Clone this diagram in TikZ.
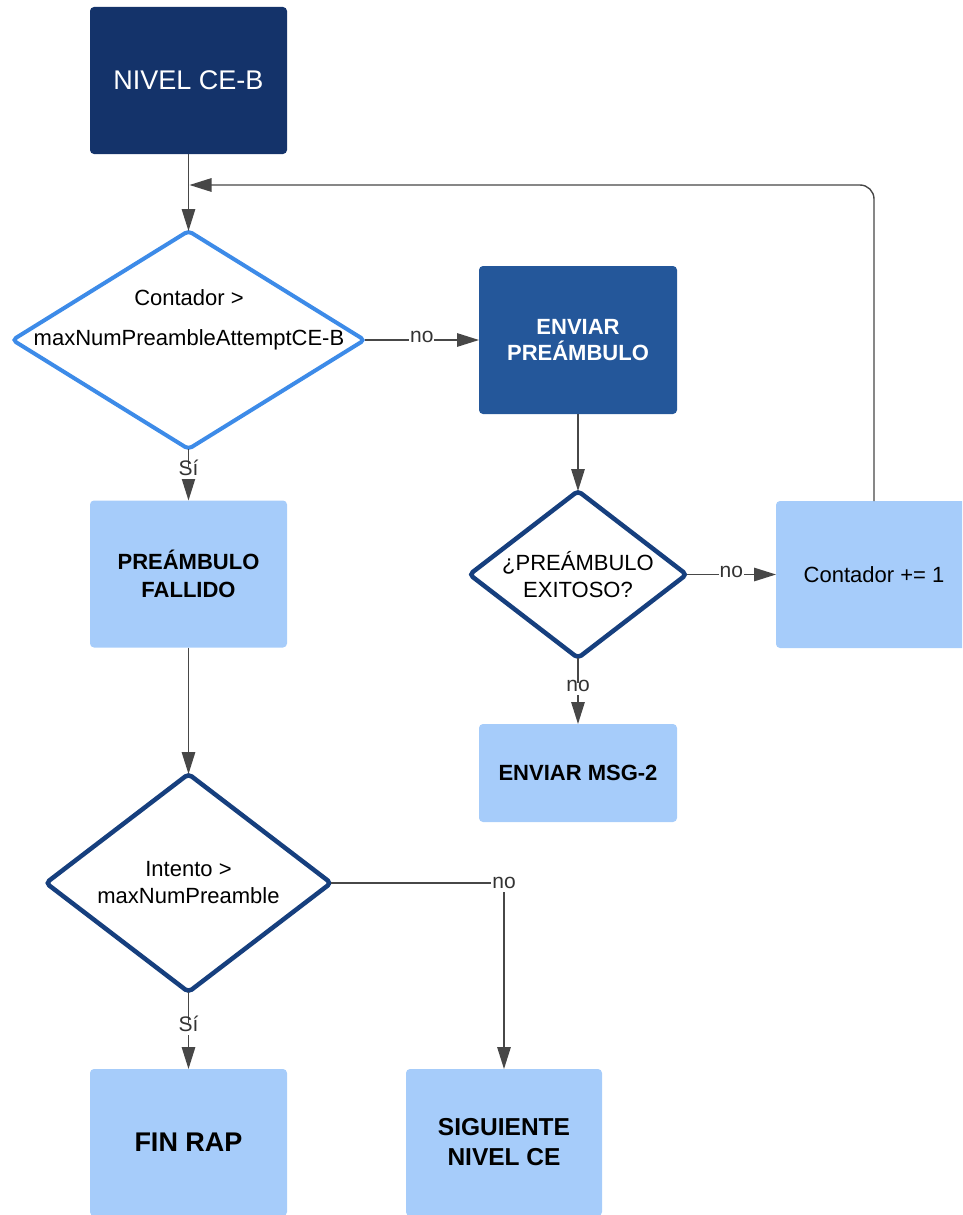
\documentclass[tikz,border=0pt]{standalone}
\usepackage{fontspec}
\setmainfont{Liberation Sans}
\usetikzlibrary{arrows.meta,shapes.geometric}

\definecolor{navy}{HTML}{14336A}
\definecolor{midblue}{HTML}{24579A}
\definecolor{paleblue}{HTML}{A6CCFA}
\definecolor{brightblue}{HTML}{3D8BE8}
\definecolor{deepblue}{HTML}{163F7E}
\definecolor{wire}{HTML}{474747}
\definecolor{labelgray}{HTML}{333333}

\newcommand{\fsz}[2]{\fontsize{#1}{#2}\selectfont}

\begin{document}
\begin{tikzpicture}[x=1pt,y=-1pt,
  box/.style={rectangle, rounded corners=4pt, minimum width=197pt,
    minimum height=147pt, inner sep=0pt, outer sep=0pt, align=center},
  navybox/.style={box, fill=navy, text=white, font=\fsz{27}{32}},
  midbox/.style={box, fill=midblue, text=white, font=\bfseries\fsz{22}{26.5}},
  palebox/.style={box, fill=paleblue, text=black, font=\bfseries\fsz{22}{28}},
  plainpale/.style={box, fill=paleblue, text=black, font=\fsz{22}{27}},
  decision/.style={diamond, fill=white, draw=deepblue, line width=4.5pt,
    rounded corners=4pt, inner sep=0pt, outer sep=0pt},
  dtext/.style={align=center, font=\fsz{22}{27}, text=black, inner sep=0pt},
  flow/.style={draw=wire, line width=1.4pt, -{Triangle[length=22pt,width=13.5pt]}},
  tag/.style={fill=white, inner sep=1pt, text=labelgray, font=\fsz{21}{24},
    text height=0.78em, text depth=0.22em},
]
\useasboundingbox (0,0) rectangle (962,1215);
\clip (0,0) rectangle (962,1215);

% ---- process boxes ----
\node[navybox] (nivel) at (188.5,80.5) {NIVEL CE-B};
\node[midbox, minimum width=198pt, minimum height=148pt] (enviar) at (578,340) {ENVIAR\\PREÁMBULO};
\node[palebox] (fallido) at (188.5,574) {PREÁMBULO\\FALLIDO};
\node[plainpale, minimum width=196pt] (contador) at (874,574.5) {Contador += 1};
\node[palebox, minimum width=198pt, minimum height=98pt] (msg) at (578,773) {ENVIAR MSG-2};
\node[palebox, font=\bfseries\fsz{27}{32}] (fin) at (188.5,1142.5) {FIN RAP};
\node[palebox, minimum width=196pt, font=\bfseries\fsz{24.5}{30}] (sig) at (504,1142.5) {SIGUIENTE\\NIVEL CE};

% ---- decisions ----
\node[decision, draw=brightblue, line width=4pt, minimum width=352pt, minimum height=218pt] (dmax) at (188.5,340) {};
\node[dtext, font=\fsz{22}{40}] (dmaxtxt) at (189,320) {Contador >\\maxNumPreambleAttemptCE-B};

\node[decision, minimum width=217pt, minimum height=167pt] (dok) at (578,574.5) {};
\node[dtext] (doktxt) at (578,575) {¿PREÁMBULO\\EXITOSO?};

\node[decision, minimum width=285pt, minimum height=218pt] (dint) at (188.5,883) {};
\node[dtext] (dinttxt) at (188.5,883) {Intento >\\maxNumPreamble};

% ---- connectors ----
\coordinate (back) at (189.5,185);

\draw[flow] (nivel.south) -- (dmax.north);
\draw[flow, rounded corners=14pt] (contador.north) |- (back);
\draw[flow] (dmax.east) -- node[tag] {no} (enviar.west);
\draw[flow] (dmax.south) -- node[tag, pos=0.46] {Sí} (fallido.north);
\draw[flow] (enviar.south) -- (dok.north);
\draw[flow] (dok.east) -- node[tag] {no} (contador.west);
\draw[flow] (dok.south) -- node[tag, pos=0.47] {no} (msg.north);
\draw[flow] (fallido.south) -- (dint.north);
\draw[flow] (dint.south) -- node[tag, pos=0.48] {Sí} (fin.north);
\draw[flow] (dint.east) -| node[tag, pos=0.5, yshift=-3pt] {no} (sig.north);
\end{tikzpicture}
\end{document}
